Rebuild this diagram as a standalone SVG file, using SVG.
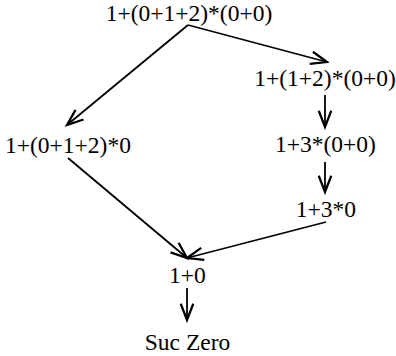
<svg xmlns="http://www.w3.org/2000/svg" width="396" height="356" viewBox="0 0 396 356">
<style>
text{font-family:"Liberation Serif","Times New Roman",serif;font-size:23.5px;fill:#000;text-anchor:middle}
.e{stroke:#000;stroke-width:1.8;fill:none}
</style>
<defs>
<marker id="a" markerUnits="userSpaceOnUse" markerWidth="20" markerHeight="20" viewBox="-14 -8 16 16" refX="0" refY="0" orient="auto">
<path d="M-13,-5 L0,0 L-13,5" fill="none" stroke="#000" stroke-width="1.8"/>
</marker>
</defs>
<rect width="396" height="356" fill="#fff"/>
<g id="connectors">
<line class="e" x1="188" y1="25" x2="67" y2="125" marker-end="url(#a)"/>
<line class="e" x1="188" y1="25" x2="327" y2="62" marker-end="url(#a)"/>
<line class="e" x1="325" y1="95" x2="325" y2="127" marker-end="url(#a)"/>
<line class="e" x1="325" y1="162" x2="325" y2="192" marker-end="url(#a)"/>
<line class="e" x1="68" y1="158" x2="187" y2="258" marker-end="url(#a)"/>
<line class="e" x1="326" y1="222" x2="187" y2="258" marker-end="url(#a)"/>
<line class="e" x1="187" y1="288" x2="187" y2="320" marker-end="url(#a)"/>
</g>
<g id="n0"><text x="189" y="21">1+(0+1+2)*(0+0)</text></g>
<g id="n1"><text x="325" y="86">1+(1+2)*(0+0)</text></g>
<g id="n2"><text x="68" y="153">1+(0+1+2)*0</text></g>
<g id="n3"><text x="325.5" y="152">1+3*(0+0)</text></g>
<g id="n4"><text x="326" y="217">1+3*0</text></g>
<g id="n5"><text x="187.5" y="283">1+0</text></g>
<g id="n6"><text x="187.5" y="350">Suc Zero</text></g>
</svg>
